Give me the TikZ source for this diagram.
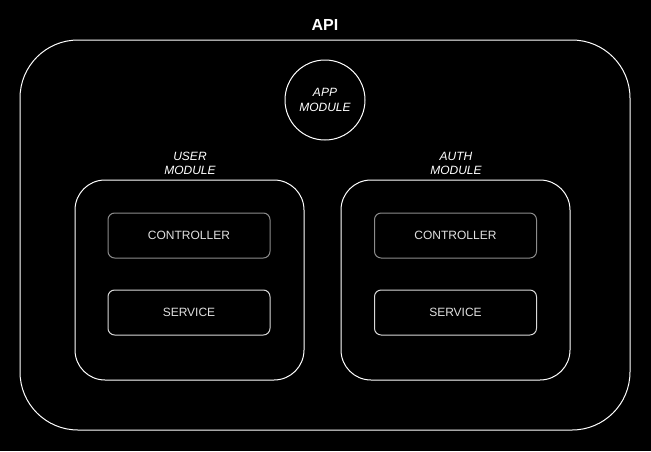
\documentclass[tikz,border=0pt]{standalone}
\usepackage{fontspec}
\setmainfont{Liberation Sans}
\begin{document}
\begin{tikzpicture}[x=0.75pt,y=-0.75pt,
  box/.style={draw=white,line width=0.75pt,inner sep=0pt,outer sep=0pt,rectangle},
  ctrlbox/.style={draw=white!55!black,line width=0.75pt,inner sep=0pt,outer sep=0pt,rectangle,rounded corners=5pt,minimum width=121.5pt,minimum height=33.75pt,text=white!88!black,font=\fontsize{9pt}{10.8pt}\selectfont},
  servbox/.style={ctrlbox,draw=white!85!black},
  lbl/.style={text=white,font=\itshape\fontsize{9pt}{10.8pt}\selectfont,align=center,inner sep=0pt}]
\fill[black] (0,0) rectangle (651,451);
\useasboundingbox (0,0) rectangle (651,451);
\node[text=white,font=\bfseries\fontsize{12pt}{14pt}\selectfont] (title) at (325,25) {API};
\node[box,rounded corners=43.5pt,minimum width=457.5pt,minimum height=292.5pt] (api) at (325,235) {};
\node[draw=white,line width=0.75pt,circle,minimum size=60pt,inner sep=0pt] (app) at (325,100) {};
\node[lbl] (applbl) at (325,100) {APP\\MODULE};
\node[lbl] (userlbl) at (190,163.5) {USER\\MODULE};
\node[lbl] (authlbl) at (456,163.5) {AUTH\\MODULE};
\node[box,rounded corners=22.5pt,minimum width=171.75pt,minimum height=150pt] (user) at (189.5,280) {};
\node[box,rounded corners=22.5pt,minimum width=171.75pt,minimum height=150pt] (auth) at (455.5,280) {};
\node[ctrlbox] (uctrl) at (189,235.5) {CONTROLLER};
\node[servbox] (userv) at (189,312.5) {SERVICE};
\node[ctrlbox] (actrl) at (455.5,235.5) {CONTROLLER};
\node[servbox] (aserv) at (455.5,312.5) {SERVICE};
\end{tikzpicture}
\end{document}
